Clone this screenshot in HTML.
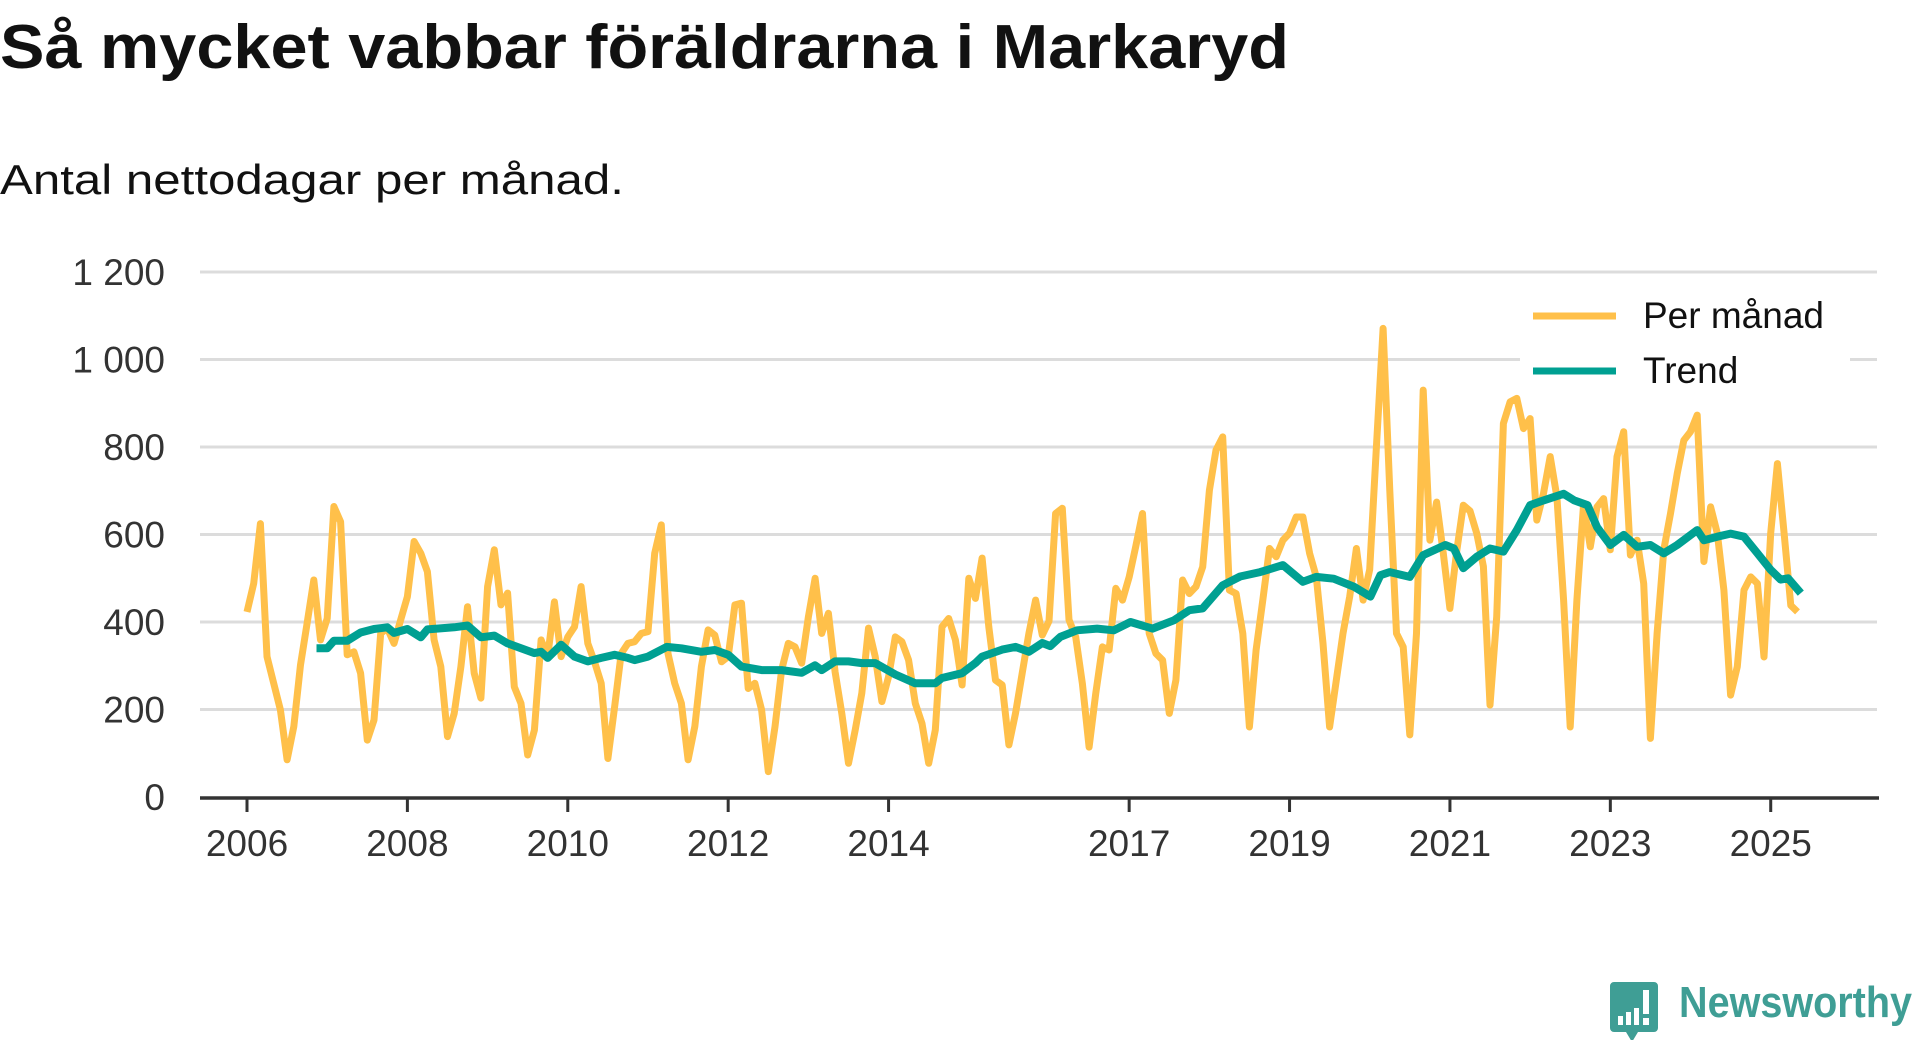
<!DOCTYPE html>
<html><head><meta charset="utf-8"><title>Så mycket vabbar föräldrarna i Markaryd</title>
<style>
html,body{margin:0;padding:0;background:#fff;}
body{width:1920px;height:1040px;overflow:hidden;font-family:"Liberation Sans",sans-serif;}
svg{display:block}
</style></head>
<body>
<svg id="chart" width="1920" height="1040" viewBox="0 0 1920 1040" xmlns="http://www.w3.org/2000/svg">
  <text x="0" y="68" font-family="Liberation Sans, sans-serif" font-weight="bold" font-size="62" fill="#111" textLength="1289" lengthAdjust="spacingAndGlyphs">Så mycket vabbar föräldrarna i Markaryd</text>
  <text x="0" y="194" font-family="Liberation Sans, sans-serif" font-size="42" fill="#111" textLength="624" lengthAdjust="spacingAndGlyphs">Antal nettodagar per månad.</text>
  <g id="grid"></g>
  <g id="yaxis"></g>
  <g id="series"></g>
  <g id="xaxis"></g>
  <g>
    <rect x="1520" y="292" width="330" height="100" fill="#fff"/>
    <g>
      <line x1="1533" y1="316" x2="1616" y2="316" stroke="#ffc04a" stroke-width="7"/>
      <text x="1643" y="328" font-size="37" fill="#111" font-family="Liberation Sans, sans-serif">Per månad</text>
    </g>
    <g>
      <line x1="1533" y1="371" x2="1616" y2="371" stroke="#00a092" stroke-width="7"/>
      <text x="1643" y="383" font-size="37" fill="#111" font-family="Liberation Sans, sans-serif">Trend</text>
    </g>
  </g>
  <g>
    <path d="M1614,982 h40 a4,4 0 0 1 4,4 v42 a4,4 0 0 1 -4,4 h-16 l-6,10 l-6,-10 h-12 a4,4 0 0 1 -4,-4 v-42 a4,4 0 0 1 4,-4 z" fill="#3f9e95"/>
    <rect x="1618" y="1016" width="5" height="9" fill="#fff"/>
    <rect x="1626" y="1012" width="5" height="13" fill="#fff"/>
    <rect x="1634" y="1008" width="5" height="17" fill="#fff"/>
    <rect x="1643" y="990" width="6" height="24" fill="#fff"/>
    <rect x="1643" y="1018" width="6" height="7" fill="#fff"/>
    <text x="1679" y="1017" font-family="Liberation Sans, sans-serif" font-weight="bold" font-size="44" fill="#3f9e95" textLength="233" lengthAdjust="spacingAndGlyphs">Newsworthy</text>
  </g>
</svg>
<script>
const yTicks = [0, 200, 400, 600, 800, 1000, 1200];
const yTickLabels = ["0", "200", "400", "600", "800", "1 000", "1 200"];
const xTickYears = [2006, 2008, 2010, 2012, 2014, 2017, 2019, 2021, 2023, 2025];
const startYear = 2006;
const monthly = [
423,488,625,321,260,199,85,161,302,397,496,359,
408,664,629,325,332,283,130,176,374,386,351,405,
458,584,557,515,359,298,138,191,298,435,283,226,
481,565,439,466,252,214,96,153,359,321,446,321,
366,389,481,351,309,260,88,206,328,351,
355,374,378,557,622,328,260,214,85,161,298,382,370,309,321,439,443,248,260,199,58,161,290,351,343,306,412,500,374,420,286,191,77,153,237,386,321,218,275,366,355,313,214,168,77,153,389,408,359,256,500,454,546,389,267,256,119,191,283,374,450,370,
402,648,660,405,366,259,114,236,343,336,477,450,503,573,648,374,328,313,191,267,496,465,481,526,701,793,823,473,465,374,160,336,450,568,549,587,603,640,640,557,503,351,160,267,374,458,568,450,
520,800,1071,700,374,343,142,374,930,587,674,557,431,560,
667,654,603,527,210,412,854,903,911,842,865,633,694,778,686,450,160,450,670,572,663,682,565,778,835,553,587,488,134,374,565,648,739,815,835,873,538,663,603,473,233,298,473,503,488,320,603,762,603,438,423
];
const trendMonths = [10.4,12,13,15,17,19,21,22,24,26,27,31,33,35,37,39,41,43,44,45,47,49,51,53,55,57,58,60,62.8,65,68,70,72,74,77,80,83,85,86,88,90,92,94,97,100,103,104,107,109,110,113,115,117,119,120.2,121.7,124.2,127.2,129.7,132.2,135.5,138.7,141,143,146,148.6,151.6,155,158,160,162.6,165.6,168.1,169.6,171,174,176,179.3,180.6,182,184,186,188,190,192,194,197,198.6,200.6,202,204,206,208,210,212,214,217,218,220,222,224,226,228,229.5,230.6,232.5];
const trendValues = [340,340,357,357,376,384,388,375,384,365,383,388,392,365,369,351,340,329,332,318,348,321,310,318,325,318,313,321,343,340,332,336,325,298,290,290,284,301,290,310,310,306,306,280,260,260,272,283,306,321,337,343,332,352,345,366,381,385,381,400,385,404,427,431,484,504,514,530,492,503,499,481,458,507,514,503,553,576,568,523,549,568,561,610,667,678,693,678,667,617,576,599,572,576,557,576,610,587,595,602,595,557,519,497,500,466];

const NS = "http://www.w3.org/2000/svg";
const X0 = 247, PX_PER_MONTH = 6.683, Y0 = 797, PX_PER_UNIT = 0.4375;
function xScale(m){ return X0 + m * PX_PER_MONTH; }
function yScale(v){ return Y0 - v * PX_PER_UNIT; }
function mk(tag, attrs){ const e = document.createElementNS(NS, tag); for (const k in attrs) e.setAttribute(k, attrs[k]); return e; }

const grid = document.getElementById('grid');
const yaxis = document.getElementById('yaxis');
yTicks.forEach((v, i) => {
  if (v > 0) {
    const gl = mk('line', {x1: 200, x2: 1877, y1: yScale(v), y2: yScale(v), stroke: '#dcdcdc', 'stroke-width': 3});
    
    
    grid.appendChild(gl);
  }
  const t = mk('text', {x: 165, y: yScale(v) + 13, 'text-anchor': 'end', 'font-size': 37, fill: '#333', 'font-family': 'Liberation Sans, sans-serif'});
  t.textContent = yTickLabels[i];
  
  
  yaxis.appendChild(t);
});

const series = document.getElementById('series');
const monthlyPath = monthly.map((v, i) => (i ? 'L' : 'M') + xScale(i).toFixed(1) + ',' + yScale(v).toFixed(1)).join(' ');
const mp = mk('path', {d: monthlyPath, fill: 'none', stroke: '#ffc04a', 'stroke-width': 7, 'stroke-linejoin': 'round'});


series.appendChild(mp);
const trendPath = trendValues.map((v, i) => (i ? 'L' : 'M') + xScale(trendMonths[i]).toFixed(1) + ',' + yScale(v).toFixed(1)).join(' ');
const tp = mk('path', {d: trendPath, fill: 'none', stroke: '#00a092', 'stroke-width': 8, 'stroke-linejoin': 'round'});


series.appendChild(tp);

const xaxis = document.getElementById('xaxis');
const axl = mk('line', {x1: 200, x2: 1879, y1: 798, y2: 798, stroke: '#333', 'stroke-width': 3.5});


xaxis.appendChild(axl);
xTickYears.forEach(yr => {
  const x = xScale((yr - startYear) * 12);
  const tk = mk('line', {x1: x, x2: x, y1: 798, y2: 812, stroke: '#333', 'stroke-width': 3});
  
  
  xaxis.appendChild(tk);
  const t = mk('text', {x: x, y: 856, 'text-anchor': 'middle', 'font-size': 37, fill: '#333', 'font-family': 'Liberation Sans, sans-serif'});
  t.textContent = String(yr);
  
  
  xaxis.appendChild(t);
});
</script>
</body></html>
